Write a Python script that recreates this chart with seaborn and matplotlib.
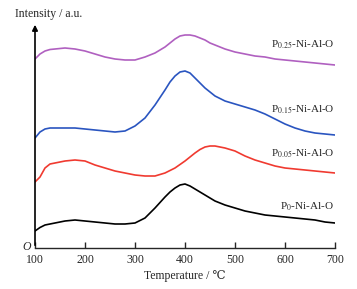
import numpy as np
import pandas as pd
import matplotlib
matplotlib.use("Agg")
import matplotlib.pyplot as plt
import seaborn as sns

# TPR-like curves, offset stacked (arbitrary intensity units)
t_p025 = [100, 110, 120, 130, 140, 160, 180, 200, 220, 240, 260, 280, 300, 320, 340, 360, 370, 380,
          390, 400, 410, 420, 430, 440, 450, 460, 480, 500, 520, 540, 560, 580, 600, 620, 640, 660, 680, 700]
p025 = [189, 194, 197, 198.5, 199, 200, 199, 197, 194, 191, 189, 188, 188, 191, 195, 201, 205, 209,
        212, 213, 213, 212, 210, 208, 205, 203, 199, 196, 194, 192, 191, 189, 188, 187, 186, 185, 184, 183]

t_p015 = [100, 110, 120, 130, 140, 160, 180, 200, 220, 240, 260, 280, 300, 320, 340, 360, 370, 380,
          390, 400, 410, 420, 430, 440, 450, 460, 480, 500, 520, 540, 560, 580, 600, 620, 640, 660, 680, 700]
p015 = [110, 116, 119, 120, 120, 120, 120, 119, 118, 117, 116, 117, 122, 130, 143, 158, 166, 172,
        176, 177, 175, 170, 165, 160, 156, 152, 147, 144, 141, 138, 134, 129, 124, 120, 117, 115, 114, 113]

t_p005 = [100, 110, 120, 130, 140, 160, 180, 200, 220, 240, 260, 280, 300, 320, 340, 360, 380, 400,
          420, 430, 440, 450, 460, 470, 480, 500, 520, 540, 560, 580, 600, 620, 640, 660, 680, 700]
p005 = [66, 71, 80, 84, 85, 87, 88, 87, 83, 80, 77, 75, 73, 72, 72, 75, 80, 87,
        95, 98.5, 101, 102, 102, 101, 100, 97, 92, 88, 85, 82, 80, 79, 78, 77, 76, 75]

t_p0 = [100, 110, 120, 140, 160, 180, 200, 220, 240, 260, 280, 300, 320, 340, 360, 370, 380, 390,
        400, 410, 420, 430, 440, 460, 480, 500, 520, 540, 560, 580, 600, 620, 640, 660, 680, 700]
p0 = [17, 20.5, 23, 25, 27, 28, 27, 26, 25, 24, 24, 25, 30, 40, 51, 56, 60, 63,
      64, 62, 59, 56, 53, 47, 43, 40, 37, 35, 33, 32, 31, 30, 29, 28, 26, 25]

series = ["P$_{0.25}$-Ni-Al-O", "P$_{0.15}$-Ni-Al-O", "P$_{0.05}$-Ni-Al-O", "P$_{0}$-Ni-Al-O"]
temps = [t_p025, t_p015, t_p005, t_p0]
values = [p025, p015, p005, p0]
colors = ["#b060c0", "#2a55c0", "#f03a30", "#000000"]
label_y = [203, 138, 94, 41]

sns.set_style("ticks")
plt.rcParams['font.family'] = ['Liberation Serif', 'DejaVu Serif']
plt.rcParams['mathtext.fontset'] = 'stix'

fig = plt.figure(figsize=(3.57, 2.89), dpi=100)
ax = fig.add_axes([35 / 357, 41 / 289, 300 / 357, 226 / 289])

for name, tt, vals, col, ly in zip(series, temps, values, colors, label_y):
    df = pd.DataFrame({"T": tt, "I": vals})
    sns.lineplot(data=df, x="T", y="I", color=col, lw=1.2, ax=ax)
    ax.text(698, ly, name, ha="right", va="center", fontsize=8)

ax.set_xlim(100, 700)
ax.set_ylim(0, 226)
ax.set_xticks([100, 200, 300, 400, 500, 600, 700])
ax.set_yticks([])
ax.tick_params(axis="x", direction="in", length=4, width=1, labelsize=8.5, pad=4)
ax.set_xlabel("Temperature / ℃", fontsize=8.5, labelpad=3)
ax.set_ylabel("")
for s in ["top", "right", "left"]:
    ax.spines[s].set_visible(False)
ax.spines["bottom"].set_linewidth(1.0)

# y axis with arrow
ax.annotate("", xy=(0, 1.0), xytext=(0, 0), xycoords="axes fraction",
            arrowprops=dict(arrowstyle="-|>", color="k", lw=1.2, mutation_scale=8))
fig.text(15 / 357, 1 - 14 / 289, "Intensity / a.u.", fontsize=8.5, va="center", ha="left")
fig.text(27 / 357, 1 - 247 / 289, "O", fontsize=8.5, style="italic", va="center", ha="center")

fig.savefig("out.png", dpi=100)
